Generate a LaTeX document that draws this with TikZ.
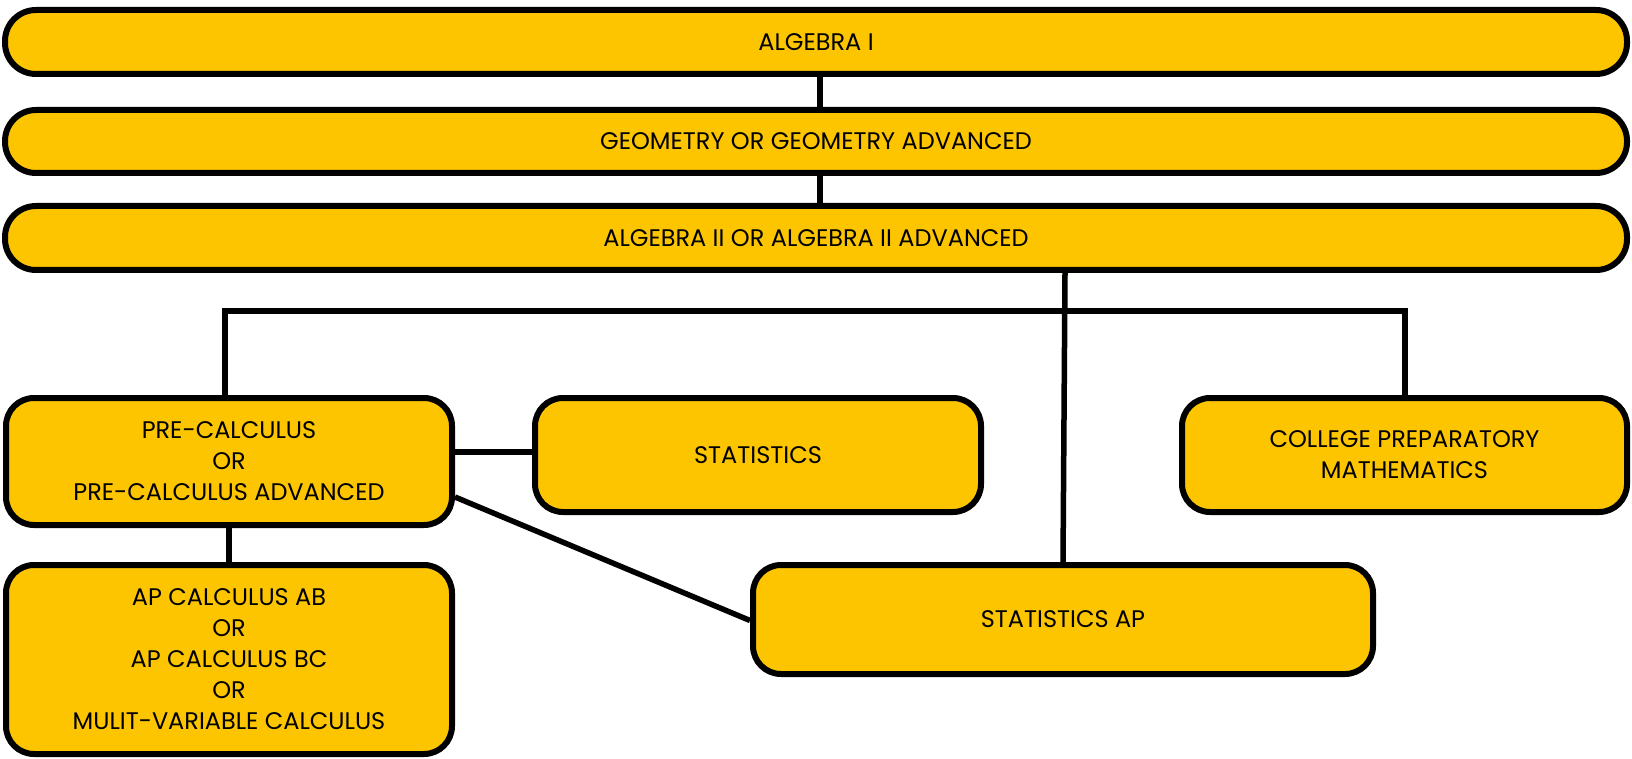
\documentclass[tikz,border=0pt]{standalone}
\usepackage{fontspec}
\setmainfont{Poppins}
\usetikzlibrary{calc}
\definecolor{boxyellow}{HTML}{FCC500}
\begin{document}
\begin{tikzpicture}[x=1pt,y=-1pt,
  box/.style={draw=black, line width=6pt, fill=boxyellow, rounded corners=28pt, inner sep=0pt, align=center, font=\fontsize{24}{31}\selectfont},
  bar/.style={box, rounded corners=31pt, minimum width=1622pt, minimum height=64pt},
  link/.style={draw=black, line width=5.5pt}]
\fill[white] (0,0) rectangle (1632,759);
\useasboundingbox (0,0) rectangle (1632,759);
\coordinate (c1) at (820,42);
\coordinate (c2) at (820,141.5);
\node[bar] (a1) at (816,42) {ALGEBRA I};
\node[bar, minimum height=63pt] (g) at (816,141.5) {GEOMETRY OR GEOMETRY ADVANCED};
\node[bar] (a2) at (816,238) {ALGEBRA II OR ALGEBRA II ADVANCED};
\node[box, minimum width=446pt, minimum height=127pt] (pc) at (229,461.5) {PRE-CALCULUS\\OR\\PRE-CALCULUS ADVANCED};
\node[box, minimum width=446pt, minimum height=114pt] (st) at (758,455) {STATISTICS};
\node[box, minimum width=445pt, minimum height=114pt] (cp) at (1404.5,455) {COLLEGE PREPARATORY\\MATHEMATICS};
\node[box, minimum width=620pt, minimum height=109pt] (sap) at (1063,619.5) {STATISTICS AP};
\node[box, minimum width=446pt, minimum height=189pt] (apc) at (229,659.5) {AP CALCULUS AB\\OR\\AP CALCULUS BC\\OR\\MULIT-VARIABLE CALCULUS};
\draw[link] (c1 |- a1.south) -- (c1 |- g.north);
\draw[link] (c2 |- g.south) -- (c2 |- a2.north);
\draw[link] ([xshift=249pt]a2.south) -- ([xshift=0pt]sap.north);
\draw[link] ([xshift=-4pt]pc.north) -- ++(0,-84) -| ([xshift=0.5pt]cp.north);
\draw[link] ([yshift=9.5pt]pc.east) -- ([yshift=9.5pt]pc.east -| st.west);
\draw[link] ([yshift=-35.5pt]pc.east) -- ([yshift=-1pt]sap.west);
\draw[link] (pc.south) -- (apc.north);
\end{tikzpicture}
\end{document}
